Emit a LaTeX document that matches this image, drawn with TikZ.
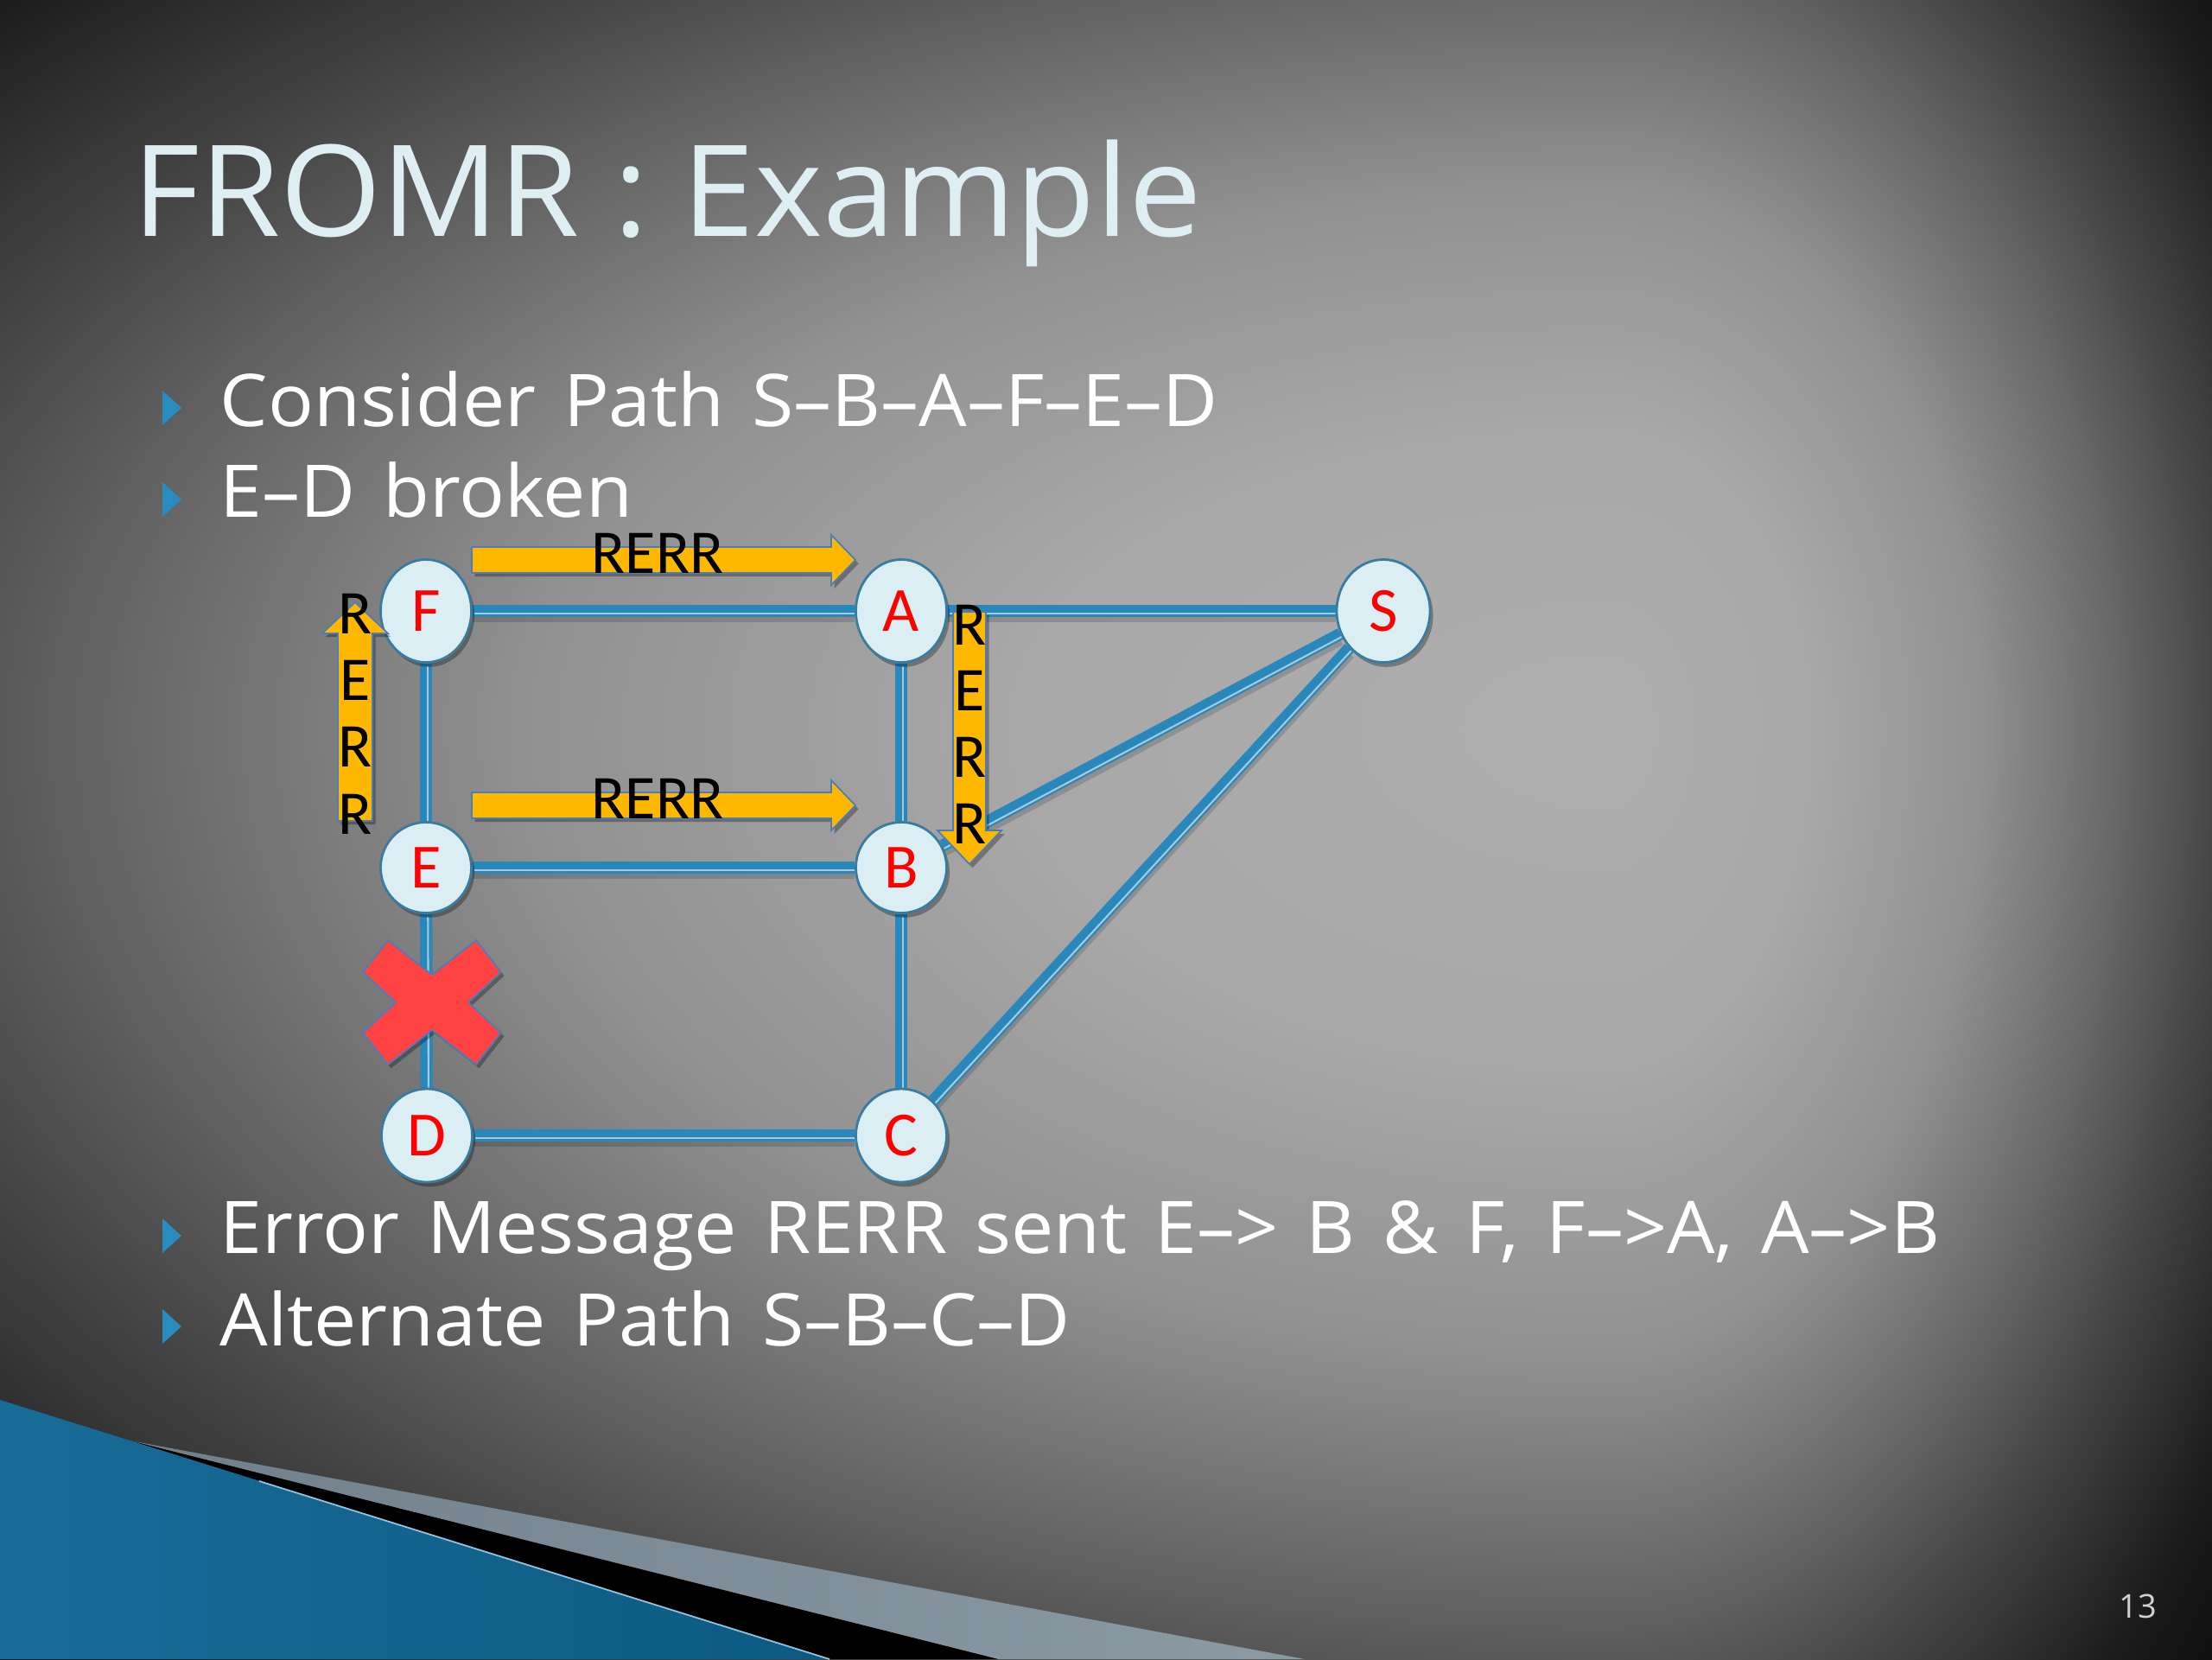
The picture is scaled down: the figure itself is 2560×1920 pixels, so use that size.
\documentclass[tikz,border=0pt]{standalone}
\usepackage{fontspec}
\usetikzlibrary{shapes.geometric,shadows}
\newfontfamily\titlefont[FakeStretch=1.025]{Open Sans}
\newfontfamily\bodyfont[FakeStretch=1.045,WordSpace=1.4]{Open Sans}
\newfontfamily\numfont{Open Sans}
\newfontfamily\calibfont{Carlito}
\definecolor{edgeblue}{RGB}{40,136,188}
\definecolor{edgelight}{RGB}{172,200,214}
\definecolor{nodefill}{RGB}{218,238,244}
\definecolor{nodeborder}{RGB}{58,124,160}
\definecolor{arrowyellow}{RGB}{255,184,0}
\definecolor{arrowborder}{RGB}{74,126,187}
\definecolor{xred}{RGB}{255,66,66}
\definecolor{bulletblue}{RGB}{40,140,190}
\definecolor{titlecol}{RGB}{222,238,243}
\definecolor{bg0}{RGB}{174,174,174}
\definecolor{bg1}{RGB}{168,168,168}
\definecolor{bg2}{RGB}{145,145,145}
\definecolor{bg3}{RGB}{104,104,104}
\definecolor{bg4}{RGB}{70,70,70}
\definecolor{bg5}{RGB}{28,28,28}
\definecolor{bg6}{RGB}{10,10,10}
\definecolor{swblueL}{RGB}{24,108,152}
\definecolor{swblueM}{RGB}{80,156,198}
\definecolor{swblueR}{RGB}{12,90,130}
\definecolor{swgrayL}{RGB}{112,128,138}
\definecolor{swgrayR}{RGB}{140,154,164}
\pgfdeclareradialshading{bgrad}{\pgfpointorigin}{color(0bp)=(bg0); color(6bp)=(bg1); color(11bp)=(bg2); color(15bp)=(bg3); color(18bp)=(bg4); color(22bp)=(bg5); color(25bp)=(bg6); color(50bp)=(bg6)}
\pgfdeclarelayer{bglayer}
\pgfdeclarelayer{edgelayer}
\pgfsetlayers{bglayer,edgelayer,main}
\begin{document}
\begin{tikzpicture}[x=0.01cm,y=-0.01cm,
  netnode/.style={ellipse, draw=nodeborder, line width=0.8pt, fill=nodefill,
    inner sep=0pt, minimum width=1.05cm, minimum height=1.19cm,
    font=\calibfont\fontsize{20.7}{24}\selectfont, text=red,
    drop shadow={shadow xshift=1pt, shadow yshift=-1.5pt, opacity=0.3, fill=black}},
  edge/.style={draw=edgeblue, line width=4pt,
    preaction={draw=black, opacity=0.15, line width=4pt, transform canvas={yshift=-1.8pt}},
    postaction={draw=edgelight, line width=0.6pt, transform canvas={xshift=0.6pt, yshift=-0.9pt}}},
  rerrarrow/.style={fill=arrowyellow, draw=arrowborder, line width=0.5pt,
    drop shadow={shadow xshift=1pt, shadow yshift=-1.2pt, opacity=0.3, fill=black}},
  rerrtext/.style={font=\calibfont\fontsize{20.5}{24}\selectfont, text=black, inner sep=0pt, anchor=base},
  bodytext/.style={font=\bodyfont\fontsize{23.9}{28}\selectfont, text=white, inner sep=0pt, anchor=base west},
  bullet/.style={fill=bulletblue},
  xmark/.style={fill=xred, draw=arrowborder, line width=0.5pt,
    drop shadow={shadow xshift=1pt, shadow yshift=-1.2pt, opacity=0.3, fill=black}}]
\useasboundingbox (0,0) rectangle (2560,1920);

% ---------- background ----------
\begin{pgfonlayer}{bglayer}
\fill[bg6] (0,0) rectangle (2560,1920);
\begin{scope}\clip (0,0) rectangle (1862,842);
  \shade[shading=bgrad] (1860-2850,840-1420) rectangle (1860+2850,840+1420);\end{scope}
\begin{scope}\clip (1858,0) rectangle (2560,842);
  \shade[shading=bgrad] (1860-980,840-1420) rectangle (1860+980,840+1420);\end{scope}
\begin{scope}\clip (0,838) rectangle (1862,1920);
  \shade[shading=bgrad] (1860-2850,840-1650) rectangle (1860+2850,840+1650);\end{scope}
\begin{scope}\clip (1858,838) rectangle (2560,1920);
  \shade[shading=bgrad] (1860-980,840-1650) rectangle (1860+980,840+1650);\end{scope}
% swoosh
\shade[left color=swgrayL, right color=swgrayR] (150,1667) -- (1510,1920) -- (1155,1920) -- cycle;
\fill[black] (150,1667) -- (1155,1920) -- (960,1920) -- cycle;
\shade[left color=swblueL, middle color=swblueM, right color=swblueR] (0,1620) -- (960,1920) -- (0,1920) -- cycle;
\draw[line width=0.5pt, color=swblueM!60!white] (300,1714) -- (960,1920);
\end{pgfonlayer}

% ---------- title and text ----------
\node[font=\titlefont\fontsize{41.8}{50}\selectfont, text=titlecol, inner sep=0pt, anchor=base west] (title) at (153,273) {FROMR : Example};

\fill[bullet] (188,452) -- (210,472) -- (188,492) -- cycle;
\fill[bullet] (188,558) -- (210,578) -- (188,598) -- cycle;
\fill[bullet] (188,1410) -- (210,1430) -- (188,1450) -- cycle;
\fill[bullet] (188,1515) -- (210,1535) -- (188,1555) -- cycle;
\node[bodytext] (l1) at (254,493) {Consider Path S–B–A–F–E–D};
\node[bodytext] (l2) at (254,598) {E–D broken};
\node[bodytext] (l3) at (254,1450) {Error Message RERR sent E–> B \& F, F–>A, A–>B};
\node[bodytext] (l4) at (254,1557) {Alternate Path S–B–C–D};

\node[font=\numfont\fontsize{10.8}{13}\selectfont, text=white!82!black, inner sep=0pt, anchor=base east] (pnum) at (2497,1872) {13};

% ---------- nodes ----------
\node[netnode] (F) at (493,707) {F};
\node[netnode] (A) at (1043,707) {A};
\node[netnode, minimum width=1.08cm] (S) at (1601,707) {S};
\node[netnode, minimum height=1.05cm] (E) at (493,1004) {E};
\node[netnode, minimum height=1.05cm] (B) at (1043,1004) {B};
\node[netnode, minimum height=1.08cm] (D) at (494,1314) {D};
\node[netnode, minimum height=1.08cm] (C) at (1043,1314) {C};

% ---------- links ----------
\begin{pgfonlayer}{edgelayer}
\draw[edge] (F) -- (A);
\draw[edge] (A) -- (S);
\draw[edge] (S) -- (B);
\draw[edge] (S) -- (C);
\draw[edge] (A) -- (B);
\draw[edge] (B) -- (C);
\draw[edge] (F) -- (E);
\draw[edge] (E) -- (D);
\draw[edge] (E) -- (B);
\draw[edge] (D) -- (C);
\end{pgfonlayer}

% ---------- broken link mark ----------
\path[xmark, shift={(500,1160)}] (-51,-72) -- (0,-32) -- (51,-72) -- (80,-35) -- (42,0) -- (80,35)
  -- (51,72) -- (0,32) -- (-51,72) -- (-80,35) -- (-42,0) -- (-80,-35) -- cycle;

% ---------- RERR block arrows ----------
\path[rerrarrow] (546,633) -- (962,633) -- (962,619) -- (990,648) -- (962,677) -- (962,663) -- (546,663) -- cycle;
\path[rerrarrow] (546,917) -- (962,917) -- (962,903) -- (990,932) -- (962,961) -- (962,947) -- (546,947) -- cycle;
\path[rerrarrow] (391,950) -- (391,733) -- (373,733) -- (411,697) -- (449,733) -- (431,733) -- (431,950) -- cycle;
\path[rerrarrow] (1103,708) -- (1103,961) -- (1085,961) -- (1122,1000) -- (1159,961) -- (1141,961) -- (1141,708) -- cycle;

\node[rerrtext] (t1) at (761,663) {RERR};
\node[rerrtext] (t2) at (761,947) {RERR};
\foreach \l/\y [count=\i] in {R/733,E/810,R/887,R/965}
  \node[rerrtext] (lv\i) at (411,\y) {\l};
\foreach \l/\y [count=\i] in {R/746,E/822,R/899,R/976}
  \node[rerrtext] (rv\i) at (1122,\y) {\l};
\end{tikzpicture}
\end{document}
